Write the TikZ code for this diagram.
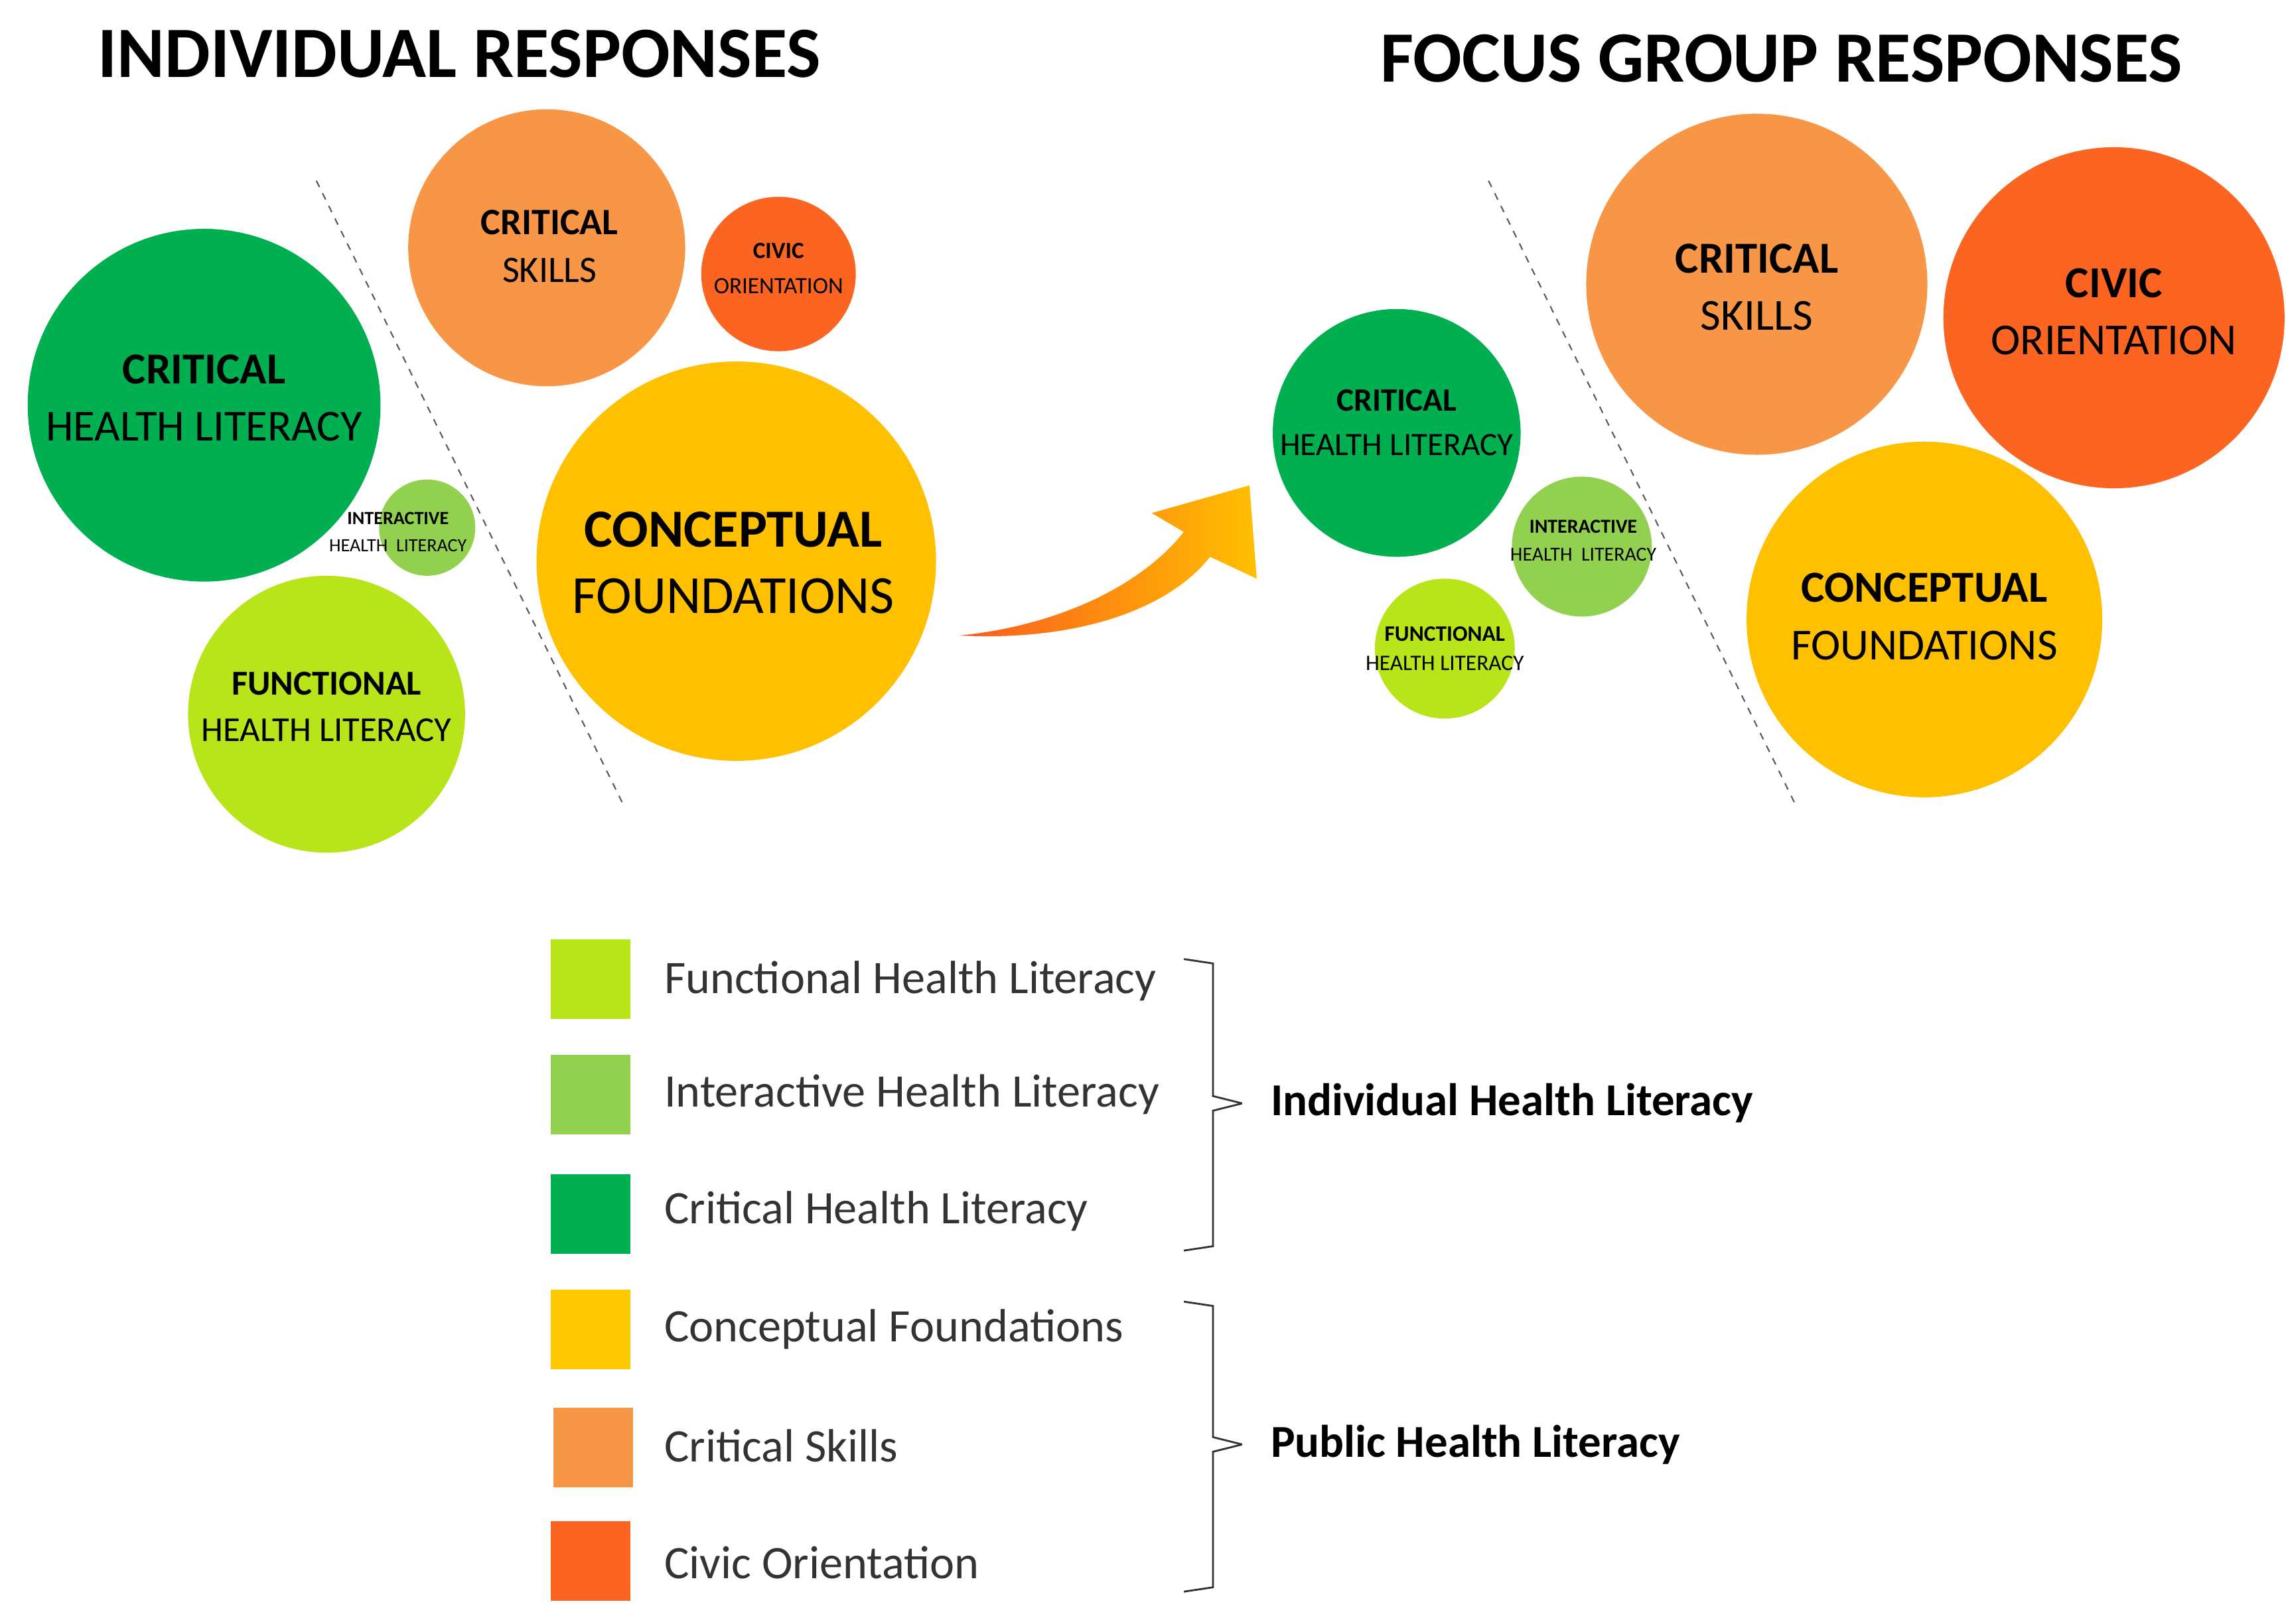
\documentclass[tikz,border=0pt]{standalone}
\usepackage{fontspec}
\setmainfont{Carlito}
\definecolor{chl}{HTML}{00B050}
\definecolor{ihl}{HTML}{92D050}
\definecolor{fhl}{HTML}{B8E41A}
\definecolor{cs}{HTML}{F79646}
\definecolor{co}{HTML}{FC6521}
\definecolor{cf}{HTML}{FFC000}
\begin{document}
\begin{tikzpicture}[x=0.02197cm,y=-0.02197cm,
  ct/.style 2 args={align=center,text=black,font=\fontsize{#1}{#2}\selectfont},
  sep/.style={dashed,gray!70!black,line width=0.6pt},
  sq/.style={minimum size=1.2cm,inner sep=0pt},
  lt/.style={anchor=west,font=\fontsize{20}{24}\selectfont,text=black!80},
  br/.style={line width=0.8pt,black!80},
  bl/.style={anchor=west,font=\bfseries\fontsize{19.6}{24}\selectfont}]
\useasboundingbox (0,0) rectangle (1568,1114);
% titles
\node[font=\bfseries\fontsize{31}{34}\selectfont] (t1) at (315,37) {INDIVIDUAL RESPONSES};
\node[font=\bfseries\fontsize{31}{34}\selectfont] (t2) at (1222,40) {FOCUS GROUP RESPONSES};
% dashed separators
\coordinate (d1a) at (217,124); \coordinate (d1b) at (428,553);
\coordinate (d2a) at (1021,124); \coordinate (d2b) at (1232,553);
\draw[sep] (d1a) -- (d1b);
\draw[sep] (d2a) -- (d2b);
% left circles
\fill[chl] (140,278) circle (121);
\fill[ihl] (293,362) circle (33);
\fill[fhl] (224,490) circle (95);
\fill[cs] (375,170) circle (95);
\fill[co] (534,188) circle (53);
\fill[cf] (505,385) circle (137);
\node[ct={19}{24.5}] (l1) at (140,273) {\textbf{CRITICAL}\\HEALTH LITERACY};
\node[ct={8}{11.5}] (l2) at (273,365) {\textbf{INTERACTIVE}\\HEALTH\ \ LITERACY};
\node[ct={15}{20}] (l3) at (224,485) {\textbf{FUNCTIONAL}\\HEALTH LITERACY};
\node[ct={16}{20.5}] (l4) at (377,169) {\textbf{CRITICAL}\\SKILLS};
\node[ct={10}{15}] (l5) at (534,184) {\textbf{CIVIC}\\ORIENTATION};
\node[ct={23}{28.5}] (l6) at (503,386) {\textbf{CONCEPTUAL}\\FOUNDATIONS};
% arrow
\shade[left color=co!90!red,right color=cf] (658,436)
  .. controls (735,440) and (800,420) .. (830,382)
  -- (862,397) -- (857,333) -- (790,352) -- (812,365)
  .. controls (780,405) and (720,430) .. (658,436) -- cycle;
% right circles
\fill[chl] (958,297) circle (85);
\fill[ihl] (1085,375) circle (48);
\fill[fhl] (991,445) circle (48);
\fill[cs] (1205,195) circle (117);
\fill[co] (1450,218) circle (117);
\fill[cf] (1320,425) circle (122);
\node[ct={14}{19}] (r1) at (958,290) {\textbf{CRITICAL}\\HEALTH LITERACY};
\node[ct={8.5}{12}] (r2) at (1086,371) {\textbf{INTERACTIVE}\\HEALTH\ \ LITERACY};
\node[ct={9.5}{12.5}] (r3) at (991,445) {\textbf{FUNCTIONAL}\\HEALTH LITERACY};
\node[ct={19}{24.5}] (r4) at (1205,197) {\textbf{CRITICAL}\\SKILLS};
\node[ct={19}{24.5}] (r5) at (1450,214) {\textbf{CIVIC}\\ORIENTATION};
\node[ct={19}{24.5}] (r6) at (1320,423) {\textbf{CONCEPTUAL}\\FOUNDATIONS};
% legend
\node[sq,fill=fhl] (s1) at (405,672) {};
\node[sq,fill=ihl] (s2) at (405,751) {};
\node[sq,fill=chl] (s3) at (405,833) {};
\node[sq,fill=cf!85!yellow] (s4) at (405,912) {};
\node[sq,fill=cs] (s5) at (407,993) {};
\node[sq,fill=co] (s6) at (405,1071) {};
\node[lt] (g1) at (450,673) {Functional Health Literacy};
\node[lt] (g2) at (450,751) {Interactive Health Literacy};
\node[lt] (g3) at (450,831) {Critical Health Literacy};
\node[lt] (g4) at (450,912) {Conceptual Foundations};
\node[lt] (g5) at (450,992) {Critical Skills};
\node[lt] (g6) at (450,1072) {Civic Orientation};
\draw[br] (812,658) -- (832,661) -- (832,752) -- (852,757);
\draw[br] (852,757) -- (832,762) -- (832,855) -- (812,858);
\draw[br] (812,893) -- (832,896) -- (832,986) -- (852,991);
\draw[br] (852,991) -- (832,996) -- (832,1089) -- (812,1092);
\node[bl] (b1) at (866,757) {Individual Health Literacy};
\node[bl] (b2) at (866,991) {Public Health Literacy};
\end{tikzpicture}
\end{document}
